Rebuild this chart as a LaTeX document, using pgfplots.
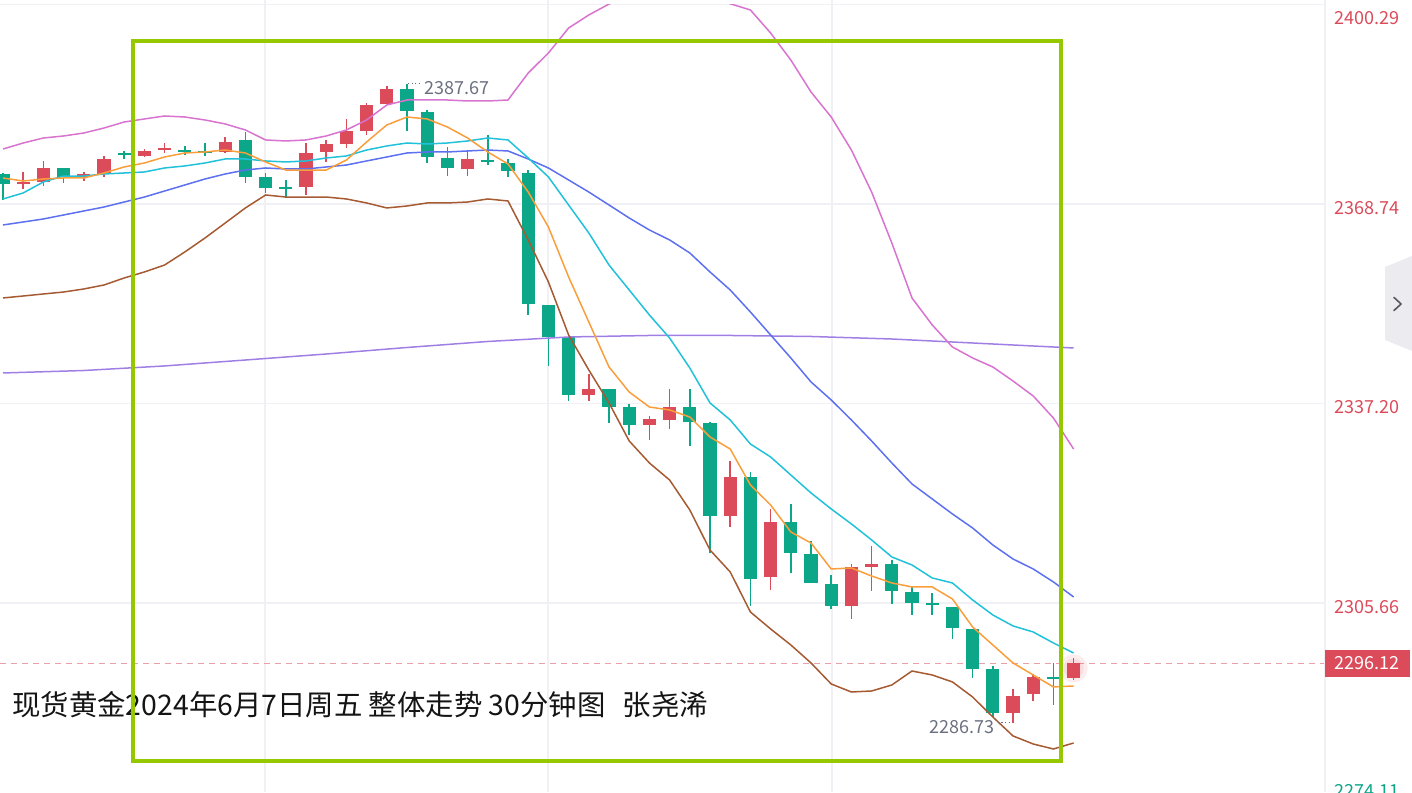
\documentclass[border=0pt]{standalone}
\usepackage{pgfplots}
\pgfplotsset{compat=1.18}
\usepackage{pgfplotstable}
\usepackage{fontspec}
\setmainfont{Noto Sans CJK SC}
\definecolor{cred}{HTML}{DC4B5A}
\definecolor{cgreen}{HTML}{0CA689}
\definecolor{cma5}{HTML}{FA9E3C}
\definecolor{cma10}{HTML}{22C1DA}
\definecolor{cma20}{HTML}{5D70F0}
\definecolor{cma60}{HTML}{A07FE4}
\definecolor{cup}{HTML}{D873CF}
\definecolor{cdn}{HTML}{A65A32}
\definecolor{cbox}{HTML}{96C800}
\definecolor{cgrid}{HTML}{F0F0F5}
\definecolor{cgray}{HTML}{6B7080}
\definecolor{cbtn}{HTML}{EBEBF0}
\definecolor{cdash}{HTML}{E9A0A8}

% candles: down (green)
\pgfplotstableread{
i o h l c
0 2373.48 2373.64 2369.37 2371.90
3 2374.43 2374.43 2372.06 2373.01
6 2376.72 2377.12 2375.85 2376.55
9 2377.17 2377.91 2376.48 2377.00
10 2377.03 2378.38 2376.33 2376.86
12 2378.86 2380.12 2372.06 2373.01
13 2373.01 2373.64 2370.48 2371.27
14 2371.33 2372.53 2369.69 2371.17
20 2386.92 2387.67 2380.28 2383.44
21 2383.28 2383.60 2375.22 2376.17
22 2376.01 2377.75 2373.16 2374.43
24 2375.60 2379.65 2374.90 2375.43
25 2375.22 2375.85 2373.01 2373.95
26 2373.64 2374.11 2351.19 2352.93
27 2352.77 2352.77 2343.13 2347.71
28 2347.71 2347.71 2337.59 2338.54
30 2339.49 2339.49 2334.11 2336.64
31 2336.64 2337.12 2332.22 2333.80
34 2336.64 2339.49 2330.48 2334.27
35 2334.11 2334.27 2313.56 2319.41
37 2325.58 2326.37 2305.18 2309.45
39 2318.46 2321.31 2310.40 2313.56
40 2313.40 2315.46 2308.82 2308.82
41 2308.66 2310.08 2304.71 2305.18
44 2311.82 2312.45 2305.50 2307.55
45 2307.39 2308.34 2303.76 2305.66
46 2305.58 2307.24 2303.76 2305.42
47 2305.02 2305.02 2299.96 2301.70
48 2301.55 2301.55 2293.80 2295.22
49 2295.22 2295.70 2287.63 2288.26
52 2293.88 2296.17 2289.53 2293.72
}\greentab

% candles: up (red)
\pgfplotstableread{
i o h l c
1 2371.90 2373.80 2371.11 2372.22
2 2372.22 2375.54 2371.58 2374.43
4 2373.01 2373.80 2372.37 2373.48
5 2373.48 2376.33 2373.01 2375.85
7 2376.33 2377.43 2376.20 2377.12
8 2377.35 2378.38 2376.80 2377.50
11 2376.96 2379.33 2376.80 2378.54
15 2371.43 2378.38 2370.16 2376.80
16 2376.96 2378.86 2375.38 2378.22
17 2378.22 2382.18 2377.59 2380.28
18 2380.28 2384.71 2379.65 2384.39
19 2384.55 2387.40 2384.55 2386.92
23 2374.27 2377.27 2373.16 2375.85
29 2338.54 2341.86 2337.59 2339.49
32 2333.80 2335.22 2331.43 2334.75
33 2334.59 2339.49 2333.17 2336.64
36 2319.41 2328.11 2317.67 2325.58
38 2309.77 2320.52 2307.71 2318.46
42 2305.18 2311.82 2303.13 2311.35
43 2311.35 2314.67 2307.55 2311.82
50 2288.26 2292.06 2286.73 2290.95
51 2291.27 2294.43 2290.16 2293.96
53 2293.80 2296.96 2293.48 2296.12
}\redtab

% moving averages and bands
\pgfplotstableread{
i ma5 ma10 ma20 up dn
0 2372.85 2369.53 2365.42 2377.43 2353.88
1 2372.37 2370.48 2365.89 2378.38 2354.19
2 2372.69 2372.22 2366.37 2379.17 2354.51
3 2372.85 2373.16 2367.00 2379.49 2354.82
4 2372.85 2373.16 2367.63 2379.96 2355.30
5 2373.64 2373.48 2368.26 2380.75 2355.93
6 2374.59 2373.64 2369.05 2381.70 2357.04
7 2375.22 2373.80 2369.84 2382.18 2357.99
8 2376.17 2374.43 2370.79 2382.65 2359.09
9 2376.80 2374.75 2371.74 2382.49 2361.15
10 2376.96 2375.22 2372.69 2382.02 2363.36
11 2377.27 2375.85 2373.48 2381.39 2365.73
12 2376.80 2375.85 2374.11 2380.44 2368.11
13 2375.38 2375.54 2374.43 2378.86 2370.16
14 2374.11 2375.38 2374.27 2378.70 2369.84
15 2374.11 2375.54 2374.27 2378.86 2369.84
16 2374.11 2376.01 2374.59 2379.49 2369.84
17 2375.69 2376.33 2374.90 2380.44 2369.53
18 2378.54 2377.27 2375.54 2382.02 2368.90
19 2381.23 2377.91 2376.17 2384.39 2368.11
20 2382.49 2378.38 2376.80 2385.18 2368.42
21 2382.18 2378.22 2376.96 2385.18 2368.90
22 2380.91 2378.38 2376.96 2385.18 2368.90
23 2379.17 2378.70 2377.12 2385.02 2369.05
24 2376.96 2379.17 2377.27 2385.02 2369.53
25 2375.06 2378.86 2377.12 2385.18 2369.21
26 2370.63 2376.01 2375.85 2389.45 2363.05
27 2365.10 2373.01 2374.43 2392.61 2356.41
28 2357.20 2368.58 2372.53 2396.56 2348.03
29 2350.08 2364.15 2370.63 2398.62 2342.49
30 2342.97 2359.09 2368.58 2400.35 2337.28
31 2339.01 2355.14 2366.52 2401.60 2331.27
32 2336.64 2351.19 2364.63 2402.30 2327.79
33 2336.17 2347.55 2363.05 2402.50 2325.10
34 2335.06 2342.81 2360.99 2402.30 2320.36
35 2331.90 2337.28 2357.99 2401.60 2314.03
36 2330.00 2334.59 2355.14 2400.40 2310.56
37 2324.31 2330.79 2351.66 2399.41 2304.23
38 2321.15 2328.74 2348.03 2395.77 2301.55
39 2316.88 2325.89 2344.39 2391.50 2299.02
40 2315.14 2323.05 2340.60 2386.44 2296.17
41 2311.03 2320.52 2337.75 2382.49 2292.85
42 2311.19 2318.15 2334.59 2377.27 2291.58
43 2309.92 2315.62 2331.27 2370.63 2291.74
44 2308.82 2312.93 2327.79 2362.57 2292.69
45 2308.19 2311.66 2324.47 2353.88 2294.90
46 2308.19 2309.61 2322.10 2349.61 2294.27
47 2306.29 2308.82 2319.73 2346.13 2293.17
48 2301.86 2306.13 2317.51 2344.39 2290.79
49 2299.02 2303.76 2314.83 2342.97 2287.63
50 2296.17 2302.02 2312.61 2340.75 2284.63
51 2294.27 2301.07 2311.03 2338.38 2283.36
52 2292.38 2299.33 2308.98 2334.90 2282.57
53 2292.53 2297.75 2306.60 2330.00 2283.52
}\linetab

\pgfplotstableread{
i ma60
0 2342.02
4 2342.41
8 2343.13
12 2344.07
16 2345.02
20 2346.05
24 2347.00
28 2347.71
32 2347.95
36 2347.95
40 2347.79
44 2347.39
48 2346.76
53 2345.97
}\longtab

\begin{document}
\begin{tikzpicture}
\begin{axis}[name=ax, at={(0,0)}, anchor=south west,
  scale only axis, width=706pt, height=396pt,
  xmin=-0.1485, xmax=69.752, ymin=2275.77, ymax=2400.99,
  axis lines=none, ticks=none, clip=false]

% grid
\foreach \yy in {2400.29,2368.74,2337.20,2305.66}{
  \edef\tmp{\noexpand\draw[cgrid, line width=0.7pt] (axis cs:-0.1485,\yy) -- (axis cs:65.446,\yy);}\tmp
}
\foreach \xx in {12.97,26.98,41.04}{
  \edef\tmp{\noexpand\draw[cgrid, line width=0.7pt] (axis cs:\xx,2275.77) -- (axis cs:\xx,2400.99);}\tmp
}
% current price dashed line
\draw[cdash, line width=0.6pt, dash pattern=on 3pt off 2.5pt] (axis cs:-0.1485,2296.12) -- (axis cs:65.446,2296.12);

% glow of last candle
\fill[cred, opacity=0.10] (axis cs:53,2295.3) circle (7pt);
\fill[cred, opacity=0.10] (axis cs:53,2295.3) circle (5pt);

% wicks
\addplot[draw=none, mark=none, forget plot,
  error bars/.cd, y dir=both, y explicit, error mark=none,
  error bar style={draw=cgreen, line width=0.75pt, solid}]
  table[x=i, y expr={(\thisrow{h}+\thisrow{l})/2}, y error expr={(\thisrow{h}-\thisrow{l})/2}] {\greentab};
\addplot[draw=none, mark=none, forget plot,
  error bars/.cd, y dir=both, y explicit, error mark=none,
  error bar style={draw=cred, line width=0.75pt, solid}]
  table[x=i, y expr={(\thisrow{h}+\thisrow{l})/2}, y error expr={(\thisrow{h}-\thisrow{l})/2}] {\redtab};
% bodies
\addplot[draw=none, mark=none, forget plot,
  error bars/.cd, y dir=both, y explicit, error mark=none,
  error bar style={draw=cgreen, line width=6.6pt, solid}]
  table[x=i, y expr={(\thisrow{o}+\thisrow{c})/2}, y error expr={max(abs(\thisrow{o}-\thisrow{c})/2,0.13)}] {\greentab};
\addplot[draw=none, mark=none, forget plot,
  error bars/.cd, y dir=both, y explicit, error mark=none,
  error bar style={draw=cred, line width=6.6pt, solid}]
  table[x=i, y expr={(\thisrow{o}+\thisrow{c})/2}, y error expr={max(abs(\thisrow{o}-\thisrow{c})/2,0.13)}] {\redtab};

% lines
\addplot[cma60, line width=0.75pt, mark=none] table[x=i, y=ma60] {\longtab};
\begin{scope}
\clip (axis cs:-0.1485,2400.34) rectangle (axis cs:65.446,2275.77);
\addplot[cup, line width=0.75pt, mark=none] table[x=i, y=up] {\linetab};
\end{scope}
\addplot[cdn, line width=0.75pt, mark=none] table[x=i, y=dn] {\linetab};
\addplot[cma20, line width=0.75pt, mark=none] table[x=i, y=ma20] {\linetab};
\addplot[cma10, line width=0.75pt, mark=none] table[x=i, y=ma10] {\linetab};
\addplot[cma5, line width=0.75pt, mark=none] table[x=i, y=ma5] {\linetab};

% annotations
\draw[cgray, line width=0.6pt, dash pattern=on 0.6pt off 1.2pt] (axis cs:20.05,2387.80) -- (axis cs:20.75,2387.80);
\node[anchor=west, inner sep=0, text=cgray, font=\fontsize{9}{10}\selectfont] at (axis cs:20.85,2387.05) {2387.67};
\draw[cgray, line width=0.6pt, dash pattern=on 0.6pt off 1.2pt] (axis cs:49.25,2286.73) -- (axis cs:49.95,2286.73);
\node[anchor=east, inner sep=0, text=cgray, font=\fontsize{9}{10}\selectfont] at (axis cs:49.11,2286.05) {2286.73};

% title
\node[anchor=west, inner sep=0, text=black!92, font=\fontsize{14.2}{16}\selectfont] at (axis cs:0.4455,2289.53) {现货黄金2024年6月7日周五 整体走势 30分钟图\hspace{0.6em}张尧浠};

% box
\draw[cbox, line width=1.6pt] (axis cs:6.436,2394.51) rectangle (axis cs:52.376,2280.68);

% right price panel
\fill[white] (axis cs:65.446,2275.77) rectangle (axis cs:69.752,2400.99);
\draw[cgrid, line width=0.8pt] (axis cs:65.446,2275.77) -- (axis cs:65.446,2400.99);
\node[anchor=west, inner sep=0, text=cred, font=\fontsize{9}{10}\selectfont] at (axis cs:65.89,2398.14) {2400.29};
\node[anchor=west, inner sep=0, text=cred, font=\fontsize{9}{10}\selectfont] at (axis cs:65.89,2368.10) {2368.74};
\node[anchor=west, inner sep=0, text=cred, font=\fontsize{9}{10}\selectfont] at (axis cs:65.89,2336.64) {2337.20};
\node[anchor=west, inner sep=0, text=cred, font=\fontsize{9}{10}\selectfont] at (axis cs:65.89,2305.02) {2305.66};
\node[anchor=west, inner sep=0, text=cgreen, font=\fontsize{9}{10}\selectfont] at (axis cs:65.89,2275.90) {2274.11};
\fill[cred] (axis cs:65.446,2298.23) rectangle (axis cs:69.65,2293.96);
\node[anchor=west, inner sep=0, text=white, font=\fontsize{9}{10}\selectfont] at (axis cs:65.89,2296.10) {2296.12};
% side button
\fill[cbtn] (axis cs:68.416,2358.78) -- (axis cs:69.752,2360.52) -- (axis cs:69.752,2345.50) -- (axis cs:68.416,2347.24) -- cycle;
\draw[black!65, line width=0.8pt, line cap=round, line join=round] (axis cs:68.86,2353.96) -- (axis cs:69.21,2352.93) -- (axis cs:68.86,2351.90);
\end{axis}
\pgfresetboundingbox
\path[use as bounding box] (ax.south west) rectangle (ax.north east);
\end{tikzpicture}
\end{document}
